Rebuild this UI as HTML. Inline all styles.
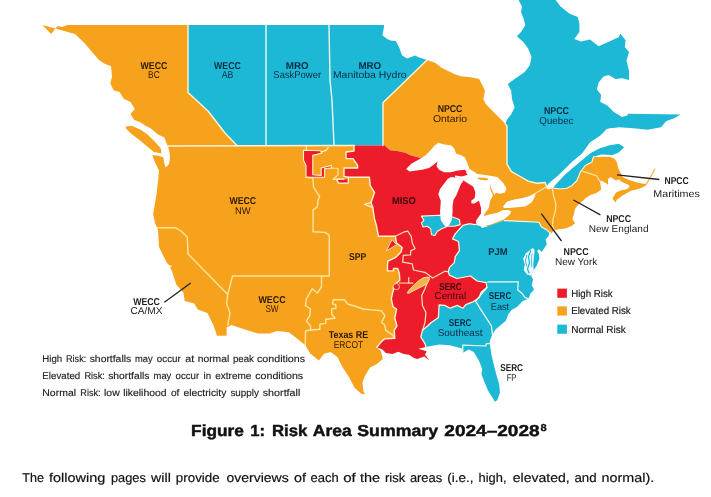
<!DOCTYPE html>
<html><head><meta charset="utf-8"><title>Figure 1: Risk Area Summary 2024-2028</title>
<style>
html,body{margin:0;padding:0;background:#fff;}
body{width:711px;height:497px;overflow:hidden;font-family:"Liberation Sans",sans-serif;}
svg{display:block;}
svg text{font-family:"Liberation Sans",sans-serif;text-rendering:geometricPrecision;}
#labels,#legend,#caption{will-change:opacity;opacity:0.999;}
</style></head><body>
<svg width="711" height="497" viewBox="0 0 711 497">
<defs><filter id="soft" x="0" y="0" width="711" height="497" filterUnits="userSpaceOnUse"><feGaussianBlur stdDeviation="0.35"/></filter></defs>
<rect width="711" height="497" fill="#ffffff"/>
<g filter="url(#soft)">
<rect width="711" height="410" fill="#ffffff"/>
<g id="map">
<path d="M42.5,25.0 L51.0,34.0 L57.5,26.0 L62.0,27.0 L67.5,25.0 L188.0,25.0 L188.0,92.5 L208.0,111.0 L225.0,133.0 L237.0,145.0 L354.0,145.5 L354.0,151.0 L346.0,152.0 L346.0,158.6 L353.0,158.6 L357.6,165.4 L357.6,168.0 L344.0,168.0 L344.0,176.4 L348.3,177.2 L369.4,177.2 L370.2,185.7 L374.5,192.4 L371.0,202.6 L372.8,207.6 L374.5,219.0 L376.3,225.0 L378.5,236.3 L395.4,236.3 L396.5,243.0 L402.2,247.5 L401.0,252.0 L395.4,257.7 L388.0,261.0 L387.5,265.0 L387.5,270.9 L393.5,270.9 L393.5,268.4 L397.7,268.4 L399.4,273.5 L399.8,280.2 L396.0,283.5 L393.2,286.6 L393.5,290.0 L392.6,292.9 L391.3,298.8 L393.1,306.8 L396.5,309.0 L394.8,318.0 L397.0,325.9 L394.2,330.4 L394.8,338.3 L384.6,338.9 L381.3,341.7 L376.8,347.3 L381.0,351.5 L382.8,359.0 L376.9,364.0 L370.0,367.4 L365.0,375.8 L362.5,382.6 L363.4,391.0 L365.0,394.4 L361.0,393.5 L354.3,387.6 L349.3,377.4 L342.5,367.3 L337.4,357.0 L330.7,352.0 L324.0,353.8 L318.9,360.5 L310.4,353.8 L305.3,345.3 L298.3,339.4 L288.8,332.2 L276.8,331.0 L269.6,333.4 L257.7,333.4 L245.7,329.8 L231.3,325.0 L226.6,327.4 L226.6,335.8 L217.0,335.8 L213.4,325.0 L207.4,313.0 L197.8,309.5 L194.3,303.5 L184.7,301.0 L183.5,292.7 L176.3,284.4 L171.5,270.0 L170.0,267.5 L172.0,266.0 L169.0,265.0 L167.0,263.0 L159.0,247.0 L158.0,230.0 L155.0,223.0 L153.1,214.0 L154.8,204.3 L156.5,194.2 L158.1,180.7 L159.0,170.5 L155.6,163.8 L152.2,155.3 L158.0,155.5 L163.5,157.5 L164.0,162.0 L165.5,167.5 L169.0,164.0 L170.0,158.0 L169.5,152.0 L168.0,146.0 L166.9,144.3 L164.3,137.6 L157.6,134.2 L151.7,129.0 L145.7,125.7 L140.7,122.4 L134.0,119.8 L130.5,114.0 L134.8,108.9 L130.5,102.0 L123.8,98.7 L119.6,92.0 L113.6,90.3 L110.3,83.5 L112.0,76.8 L111.0,66.0 L105.0,64.0 L99.0,60.0 L92.5,52.5 L84.0,42.5 L75.0,34.0Z" fill="#F7A21F" />
<path d="M125.5,126.4 L132.2,126.0 L140.7,129.8 L147.2,134.3 L153.9,140.8 L160.7,148.3 L161.5,153.6 L153.9,152.0 L147.2,146.5 L139.5,140.0 L132.2,134.5 L126.3,129.0Z" fill="#F7A21F" />
<path d="M188.0,25.0 L384.1,25.0 L383.5,30.0 L382.4,35.3 L386.9,38.7 L390.3,40.4 L395.9,40.9 L399.3,47.7 L402.1,55.6 L407.2,58.4 L415.1,55.6 L418.5,57.3 L427.0,60.0 L383.0,102.0 L383.0,145.5 L237.0,145.5 L225.0,133.0 L208.0,111.0 L188.0,92.5Z" fill="#1FB8D5" />
<path d="M427.0,60.0 L435.2,62.8 L442.0,67.9 L453.8,73.8 L460.5,76.3 L470.7,77.2 L479.1,78.9 L482.5,85.6 L485.0,90.7 L483.3,99.1 L485.9,104.2 L492.6,111.0 L499.4,117.7 L505.3,124.0 L507.0,126.0 L507.0,164.2 L511.3,171.3 L518.4,175.5 L528.2,181.1 L536.7,183.2 L545.1,182.5 L546.5,186.5 L552.8,188.0 L560.0,189.0 L566.8,188.3 L571.8,185.7 L576.9,180.7 L580.3,172.2 L585.3,165.5 L592.0,162.0 L593.4,157.3 L601.3,156.8 L610.3,156.8 L614.8,159.0 L617.0,162.4 L618.2,168.0 L620.4,172.5 L622.7,177.0 L627.2,179.3 L635.1,182.1 L643.0,183.8 L646.9,183.8 L645.2,186.0 L638.5,188.9 L631.7,190.6 L627.2,192.8 L621.5,196.2 L617.0,199.6 L615.4,202.4 L612.5,198.5 L615.9,192.8 L620.4,190.6 L626.5,189.2 L629.5,187.3 L628.8,185.0 L625.0,183.3 L621.0,181.5 L619.3,179.3 L615.9,180.4 L610.3,177.0 L608.0,179.3 L608.0,185.0 L606.9,183.8 L601.3,180.4 L600.0,181.5 L601.3,189.4 L596.8,192.8 L590.8,195.1 L586.3,197.4 L583.0,200.8 L578.5,204.2 L575.1,208.7 L573.9,214.3 L572.3,218.8 L575.1,223.3 L571.7,226.1 L564.9,228.4 L558.2,229.5 L554.2,230.1 L552.5,232.3 L550.8,233.5 L546.9,230.1 L541.3,226.7 L539.0,222.2 L504.3,220.6 L490.0,226.0 L470.0,226.0 L440.0,200.0 L420.5,157.9 L420.5,157.9 L410.4,155.3 L405.3,152.8 L397.0,151.0 L390.0,150.3 L384.6,145.5 L383.7,141.8 L383.0,145.5 L383.0,102.0Z" fill="#F7A21F" />
<path d="M518.6,0.0 L555.7,0.0 L560.8,6.8 L569.3,13.5 L577.7,16.9 L579.4,23.6 L579.4,32.0 L574.3,38.9 L581.0,41.4 L590.0,39.4 L598.6,46.2 L610.4,41.1 L618.9,36.9 L620.3,33.5 L625.6,40.3 L624.8,47.0 L629.0,52.1 L626.5,60.5 L629.0,70.7 L629.0,80.0 L622.2,78.3 L615.5,79.1 L608.7,74.9 L603.6,76.6 L598.6,82.5 L596.9,89.3 L601.1,95.1 L600.3,101.9 L607.0,105.3 L613.8,112.0 L622.2,117.1 L627.3,115.4 L628.1,113.7 L680.5,114.6 L674.6,118.0 L666.1,121.3 L661.1,127.2 L647.6,129.8 L630.7,128.0 L618.9,127.2 L607.0,128.9 L600.3,135.7 L590.1,142.4 L583.4,152.6 L576.9,159.6 L568.4,166.4 L560.0,173.9 L552.0,181.0 L546.5,186.5 L546.5,186.5 L545.1,182.5 L536.7,183.2 L528.2,181.1 L518.4,175.5 L511.3,171.3 L507.0,164.2 L507.0,126.0 L505.3,124.0 L507.0,119.4 L511.2,114.3 L514.6,107.6 L512.0,99.1 L511.2,90.7 L507.8,83.9 L514.6,78.9 L524.7,72.1 L529.8,65.3 L531.5,56.9 L528.1,48.4 L523.6,42.2 L516.9,36.3 L521.0,32.0 L525.3,25.3 L523.6,18.6 L521.0,11.8 L522.0,6.8Z" fill="#1FB8D5" />
<path d="M552.8,188.0 L556.0,184.0 L563.4,176.0 L571.8,168.5 L582.0,160.0 L590.4,153.0 L598.9,148.5 L610.7,144.8 L619.1,143.8 L624.2,146.9 L621.5,150.0 L618.2,152.8 L612.5,155.0 L601.3,154.5 L593.4,156.8 L592.0,162.0 L585.3,165.5 L580.3,172.2 L576.9,180.7 L571.8,185.7 L566.8,188.3 L560.0,189.0Z" fill="#1FB8D5" />
<path d="M354.0,145.5 L383.0,145.5 L383.0,145.5 L383.7,141.8 L384.6,145.5 L390.0,150.3 L397.0,151.0 L405.3,152.8 L410.4,155.3 L420.5,157.9 L440.0,152.0 L465.0,160.0 L470.0,170.0 L480.0,190.0 L484.0,205.0 L481.5,220.0 L478.0,224.0 L474.6,224.6 L469.5,223.7 L462.8,225.4 L455.2,233.9 L452.6,238.9 L458.5,241.5 L459.4,250.7 L455.2,256.7 L454.3,262.6 L449.3,267.6 L448.4,271.8 L449.3,275.1 L456.9,278.5 L470.4,276.0 L477.2,281.0 L486.2,282.7 L486.9,287.5 L481.3,292.1 L479.1,297.7 L472.8,301.9 L465.8,304.7 L463.0,308.2 L457.3,305.4 L450.3,308.2 L444.7,305.4 L439.1,304.9 L438.4,317.4 L430.6,323.0 L427.6,326.0 L422.5,330.2 L420.8,337.0 L425.0,343.7 L425.9,347.1 L418.3,348.8 L426.7,351.3 L425.0,354.7 L429.3,360.6 L424.2,356.4 L417.4,359.0 L414.0,358.0 L409.0,354.7 L403.8,354.0 L398.2,351.8 L392.5,354.0 L385.8,353.0 L382.4,349.6 L376.8,347.3 L381.3,341.7 L384.6,338.9 L394.8,338.3 L394.2,330.4 L397.0,325.9 L394.8,318.0 L396.5,309.0 L393.1,306.8 L391.3,298.8 L392.6,292.9 L393.5,290.0 L393.2,286.6 L396.0,283.5 L399.8,280.2 L399.4,273.5 L397.7,268.4 L393.5,268.4 L393.5,270.9 L387.5,270.9 L387.5,265.0 L388.0,261.0 L395.4,257.7 L401.0,252.0 L402.2,247.5 L396.5,243.0 L395.4,236.3 L378.5,236.3 L376.3,225.0 L374.5,219.0 L372.8,207.6 L371.0,202.6 L374.5,192.4 L370.2,185.7 L369.4,177.2 L348.3,177.2 L344.0,176.4 L344.0,168.0 L357.6,168.0 L357.6,165.4 L353.0,158.6 L346.0,158.6 L346.0,152.0 L354.0,151.0 L354.0,145.5Z" fill="#ED1C2B" />
<path d="M336.5,179.3 L348.3,179.3 L348.3,183.1 L338.5,183.1Z" fill="#ED1C2B" />
<path d="M303.5,150.3 L320.5,150.8 L322.0,153.0 L317.0,154.4 L312.8,155.3 L312.8,174.7 L321.2,175.5 L321.2,168.0 L331.4,165.4 L331.4,168.0 L324.6,168.8 L324.6,177.2 L306.0,177.2 L306.0,165.4 L303.5,160.3Z" fill="#ED1C2B" stroke="#FFF4D6" stroke-width="1.1" stroke-linejoin="round" />
<path d="M321.0,152.0 L326.0,150.3 L328.2,147.6" fill="none" stroke="#FFF4D6" stroke-width="1.25" stroke-linejoin="round" stroke-linecap="round" />
<path d="M306.3,146.0 L306.3,150.5" fill="none" stroke="#FFF4D6" stroke-width="1.15" stroke-linejoin="round" stroke-linecap="round" />
<path d="M478.0,224.0 L482.2,227.9 L490.7,225.3 L504.3,220.6 L539.0,222.2 L541.3,226.7 L546.9,230.1 L550.8,233.5 L549.6,231.8 L548.5,236.3 L545.6,239.6 L546.8,244.2 L543.9,248.7 L541.7,252.0 L538.9,249.2 L537.2,250.9 L538.9,254.3 L539.4,258.8 L537.7,263.3 L536.1,266.7 L533.8,270.1 L531.0,275.5 L533.0,279.6 L531.8,285.3 L534.1,289.8 L530.7,293.2 L528.5,298.8 L522.8,301.0 L517.2,306.7 L511.5,310.0 L508.2,314.6 L505.9,320.7 L495.7,329.2 L492.4,334.3 L489.8,341.0 L489.8,343.5 L491.5,355.3 L494.0,365.5 L496.6,375.6 L499.1,384.0 L500.0,392.5 L497.4,400.0 L494.9,401.8 L492.4,397.6 L488.1,390.8 L483.9,380.7 L481.4,373.9 L482.2,368.9 L478.9,360.4 L473.8,352.0 L468.7,349.4 L462.8,352.8 L462.0,348.6 L450.0,345.2 L439.4,344.6 L425.9,347.1 L425.0,343.7 L420.8,337.0 L422.5,330.2 L427.6,326.0 L430.6,323.0 L438.4,317.4 L439.1,304.9 L444.7,305.4 L450.3,308.2 L457.3,305.4 L463.0,308.2 L465.8,304.7 L472.8,301.9 L479.1,297.7 L481.3,292.1 L486.9,287.5 L486.2,282.7 L477.2,281.0 L470.4,276.0 L456.9,278.5 L449.3,275.1 L448.4,271.8 L449.3,267.6 L454.3,262.6 L455.2,256.7 L459.4,250.7 L458.5,241.5 L452.6,238.9 L455.2,233.9 L462.8,225.4 L469.5,223.7 L474.6,224.6 L478.0,224.0Z" fill="#1FB8D5" />
<path d="M532.7,248.0 L534.6,250.0 L533.8,258.0 L533.2,264.4 L533.8,270.3 L531.0,275.5 L527.0,274.6 L523.7,270.1 L524.8,264.4 L523.1,258.8 L525.9,253.2 L530.4,249.8Z" fill="#F1FBFD" />
<path d="M530.5,251.0 L528.5,257.0 L529.5,263.0 L527.5,269.0 L529.0,273.0" fill="none" stroke="#1FB8D5" stroke-width="1.3" stroke-linejoin="round" stroke-linecap="round" />
<path d="M527.0,255.0 L525.5,260.0 L526.5,266.0" fill="none" stroke="#1FB8D5" stroke-width="0.9" stroke-linejoin="round" stroke-linecap="round" />
<path d="M532.0,254.0 L531.3,261.0 L531.8,267.0" fill="none" stroke="#1FB8D5" stroke-width="0.8" stroke-linejoin="round" stroke-linecap="round" />
<path d="M421.4,216.1 L440.0,215.3 L452.6,217.0 L459.4,219.5 L460.2,224.6 L454.3,226.3 L447.6,226.3 L441.7,228.8 L437.4,231.3 L434.9,235.5 L431.5,234.7 L430.7,228.8 L427.3,226.3 L423.0,227.0 L421.4,222.9 L423.9,220.3Z" fill="#1FB8D5" stroke="#FFF4D6" stroke-width="1.1" stroke-linejoin="round" />
<path d="M406.2,168.9 L411.2,163.8 L418.9,159.6 L425.6,155.3 L430.7,150.3 L434.0,146.0 L438.3,142.7 L444.2,144.4 L451.0,145.2 L454.3,148.6 L456.0,153.6 L461.0,155.3 L464.5,157.0 L467.0,162.0 L468.5,166.3 L469.5,169.0 L467.8,172.0 L464.5,169.7 L457.7,170.5 L451.0,172.2 L444.2,172.2 L439.0,169.7 L436.5,166.0 L437.6,161.5 L434.0,164.6 L429.0,168.0 L422.0,169.7 L416.3,170.5 L409.6,171.4Z" fill="#ffffff" />
<path d="M455.0,177.5 L459.0,178.0 L463.5,180.5 L461.0,184.0 L459.2,188.2 L456.4,195.2 L453.5,200.0 L452.6,206.0 L452.6,212.0 L451.8,220.3 L449.0,225.5 L447.6,226.3 L445.0,226.3 L440.8,220.3 L440.0,212.0 L440.8,201.0 L438.3,194.2 L440.0,189.0 L442.5,185.7 L447.6,179.0 L451.0,177.0Z" fill="#ffffff" />
<path d="M468.5,166.0 L469.5,169.0 L477.5,174.0 L488.8,175.5 L497.3,176.9 L502.9,182.5 L506.4,188.2 L505.0,192.4 L500.0,193.8 L495.8,192.8 L494.5,195.0 L491.5,189.0 L489.5,183.5 L490.5,190.0 L493.0,195.2 L490.2,200.8 L488.8,207.9 L484.6,213.5 L483.2,219.2 L479.5,224.5 L476.5,223.5 L476.1,220.6 L481.0,213.5 L481.0,207.9 L479.0,200.8 L474.5,203.5 L471.5,203.5 L471.2,200.8 L474.7,198.0 L475.4,192.4 L473.3,186.8 L469.0,184.0 L463.5,180.5 L459.0,178.0 L455.0,177.5 L455.0,175.5 L462.0,176.5 L467.7,174.8 L466.0,172.5Z" fill="#ffffff" />
<path d="M476.1,222.0 L483.2,216.3 L490.2,214.2 L497.3,212.8 L502.9,210.0 L508.5,210.0 L511.3,211.4 L510.0,214.2 L504.3,219.2 L497.3,222.0 L490.2,224.8 L483.2,226.2 L477.5,225.5Z" fill="#ffffff" />
<path d="M502.9,206.5 L507.1,201.5 L514.2,199.4 L522.6,198.0 L529.6,195.9 L533.9,193.8 L535.5,194.5 L534.6,197.3 L531.8,202.3 L525.4,206.5 L517.0,207.2 L508.5,207.9 L504.0,208.0Z" fill="#ffffff" />
<ellipse cx="483" cy="178.9" rx="5.5" ry="1.2" transform="rotate(6 483 178.9)" fill="#F7A21F"/>
<path d="M546.0,188.5 L548.5,183.5 L556.0,177.5 L563.4,170.5 L571.8,162.0 L582.0,153.5 L590.1,142.4 L600.3,135.7 L607.0,128.9 L612.0,128.0 L618.0,130.0 L624.0,136.0 L626.0,144.0 L624.2,146.9 L619.1,143.8 L610.7,144.8 L598.9,148.5 L590.4,153.0 L582.0,160.0 L571.8,168.5 L563.4,176.0 L556.0,184.0 L552.8,188.0 L549.0,189.5Z" fill="#ffffff" />
</g>
<g id="borders">
<path d="M188.0,25.0 L188.0,92.5 L208.0,111.0 L225.0,133.0 L237.0,145.5" fill="none" stroke="#FFF4D6" stroke-width="1.4" stroke-linejoin="round" stroke-linecap="round" />
<path d="M168.0,146.0 L354.0,145.5" fill="none" stroke="#FFF4D6" stroke-width="1.4" stroke-linejoin="round" stroke-linecap="round" />
<path d="M266.0,25.0 L266.0,145.5" fill="none" stroke="#EFFBEA" stroke-width="1.4" stroke-linejoin="round" stroke-linecap="round" />
<path d="M329.0,25.0 L330.0,80.0 L332.0,100.0 L334.0,145.5" fill="none" stroke="#EFFBEA" stroke-width="1.4" stroke-linejoin="round" stroke-linecap="round" />
<path d="M427.0,60.0 L383.0,102.8 L383.0,145.5" fill="none" stroke="#FFF4D6" stroke-width="1.4" stroke-linejoin="round" stroke-linecap="round" />
<path d="M505.3,124.0 L507.0,126.0 L507.0,164.2 L511.3,171.3 L518.4,175.5 L528.2,181.1 L536.7,183.2 L545.1,182.5 L546.5,186.5" fill="none" stroke="#FFF4D6" stroke-width="1.4" stroke-linejoin="round" stroke-linecap="round" />
<path d="M157.0,227.7 L175.4,227.7 L181.0,231.0 L187.2,237.0 L188.1,253.9 L227.8,294.4 L226.6,303.5 L230.0,313.0 L227.8,325.0" fill="none" stroke="#FFE59A" stroke-width="1.4" stroke-linejoin="round" stroke-linecap="round" />
<path d="M227.8,294.0 L232.5,276.0 L329.3,276.0" fill="none" stroke="#FFE59A" stroke-width="1.4" stroke-linejoin="round" stroke-linecap="round" />
<path d="M306.0,177.2 L312.8,178.0 L313.6,187.4 L317.0,192.4 L319.6,196.7 L318.0,200.0 L317.3,207.0 L313.1,209.9 L313.1,231.7 L325.0,232.4 L329.3,235.2 L329.3,276.0" fill="none" stroke="#FFE59A" stroke-width="1.4" stroke-linejoin="round" stroke-linecap="round" />
<path d="M321.5,276.0 L321.5,287.0 L317.3,293.0 L312.2,288.8 L306.3,299.0 L305.5,305.7 L310.5,309.0 L309.7,315.8 L306.3,320.9 L310.5,326.0 L310.5,330.0 L305.5,331.0 L305.3,345.3" fill="none" stroke="#FFE59A" stroke-width="1.4" stroke-linejoin="round" stroke-linecap="round" />
<path d="M310.5,330.0 L319.8,329.3 L319.8,324.3 L325.7,323.4 L325.7,319.2 L335.0,318.3 L331.7,314.0 L331.7,309.0 L335.9,308.2 L335.9,304.8 L332.5,304.0 L333.3,299.8 L344.3,299.8 L347.7,304.0 L356.1,306.5 L362.9,309.0 L371.4,309.9 L381.5,310.7 L384.9,315.8 L381.5,322.6 L384.6,324.8 L385.8,330.4 L392.5,334.9 L394.2,338.3" fill="none" stroke="#FFE59A" stroke-width="1.4" stroke-linejoin="round" stroke-linecap="round" />
<path d="M354.0,145.5 L354.0,151.0 L346.0,152.0 L346.0,158.6 L353.0,158.6 L357.6,165.4 L357.6,168.0 L344.0,168.0 L344.0,176.4 L348.3,177.2 L369.4,177.2 L370.2,185.7 L374.5,192.4 L371.0,202.6 L372.8,207.6 L374.5,219.0 L376.3,225.0 L378.5,236.3 L395.4,236.3 L396.5,243.0 L402.2,247.5 L401.0,252.0 L395.4,257.7 L388.0,261.0 L387.5,265.0 L387.5,270.9 L393.5,270.9 L393.5,268.4 L397.7,268.4 L399.4,273.5 L399.8,280.2 L396.0,283.5 L393.2,286.6 L393.5,290.0 L392.6,292.9 L391.3,298.8 L393.1,306.8 L396.5,309.0 L394.8,318.0 L397.0,325.9 L394.2,330.4 L394.8,338.3 L384.6,338.9 L381.3,341.7 L376.8,347.3" fill="none" stroke="#FFF4D6" stroke-width="1.4" stroke-linejoin="round" stroke-linecap="round" />
<path d="M371.0,202.6 L364.5,204.3 L372.8,207.6" fill="none" stroke="#FFF4D6" stroke-width="1.15" stroke-linejoin="round" stroke-linecap="round" />
<path d="M348.3,177.2 L348.3,183.1 L338.5,183.1 L336.5,179.3 L344.0,179.0" fill="none" stroke="#FFF4D6" stroke-width="1.4" stroke-linejoin="round" stroke-linecap="round" />
<path d="M324.6,168.8 L331.4,168.0 L338.0,168.5 L338.0,175.0 L333.0,179.3 L336.5,179.3" fill="none" stroke="#FFE59A" stroke-width="1.15" stroke-linejoin="round" stroke-linecap="round" />
<path d="M395.4,236.3 L404.4,231.8 L407.8,231.2 L411.2,236.3 L412.3,243.0 L415.1,248.7 L410.6,250.9 L410.6,254.9 L403.3,255.4 L402.7,262.2 L412.3,263.9 L413.5,270.0 L424.7,272.3 L428.1,274.6 L432.6,278.0 L445.0,271.2 L448.4,271.8" fill="none" stroke="#FCDDB4" stroke-width="1.25" stroke-linejoin="round" stroke-linecap="round" />
<path d="M429.3,277.0 L425.0,288.8 L421.7,295.5 L422.5,305.7 L425.9,312.4 L425.0,322.6 L422.5,330.2" fill="none" stroke="#FCDDB4" stroke-width="1.25" stroke-linejoin="round" stroke-linecap="round" />
<path d="M478.0,224.0 L474.6,224.6 L469.5,223.7 L462.8,225.4 L455.2,233.9 L452.6,238.9 L458.5,241.5 L459.4,250.7 L455.2,256.7 L454.3,262.6 L449.3,267.6 L448.4,271.8 L449.3,275.1 L456.9,278.5 L470.4,276.0 L477.2,281.0 L486.2,282.7 L486.9,287.5 L481.3,292.1 L479.1,297.7 L472.8,301.9 L465.8,304.7 L463.0,308.2 L457.3,305.4 L450.3,308.2 L444.7,305.4 L439.1,304.9 L438.4,317.4 L430.6,323.0 L427.6,326.0 L422.5,330.2 L420.8,337.0 L425.0,343.7 L425.9,347.1" fill="none" stroke="#FFF4D6" stroke-width="1.25" stroke-linejoin="round" stroke-linecap="round" />
<path d="M487.9,281.9 L518.3,281.9 L517.7,289.8 L521.7,293.2 L525.1,297.7 L528.5,298.8" fill="none" stroke="#EFFBEA" stroke-width="1.25" stroke-linejoin="round" stroke-linecap="round" />
<path d="M486.9,287.5 L475.6,301.2 L481.3,310.3 L486.9,318.8 L491.5,326.0 L492.4,334.3" fill="none" stroke="#EFFBEA" stroke-width="1.25" stroke-linejoin="round" stroke-linecap="round" />
<path d="M462.8,352.8 L462.8,345.2 L485.6,346.0 L486.5,343.5 L489.8,343.5" fill="none" stroke="#EFFBEA" stroke-width="1.25" stroke-linejoin="round" stroke-linecap="round" />
<path d="M552.5,189.5 L553.7,196.3 L555.9,204.2 L555.4,210.9 L553.1,218.8 L552.5,225.6 L554.2,230.1" fill="none" stroke="#FFE59A" stroke-width="1.25" stroke-linejoin="round" stroke-linecap="round" />
<path d="M582.8,171.4 L590.0,173.7 L596.8,175.9 L600.0,181.5" fill="none" stroke="#FFE59A" stroke-width="1.25" stroke-linejoin="round" stroke-linecap="round" />
<path d="M546.5,186.5 L552.2,188.2" fill="none" stroke="#FFF4D6" stroke-width="1.25" stroke-linejoin="round" stroke-linecap="round" />
<path d="M534.6,193.8 L546.5,186.8" fill="none" stroke="#FFE59A" stroke-width="1.25" stroke-linejoin="round" stroke-linecap="round" />
<path d="M646.5,184.0 L654.8,169.2" fill="none" stroke="#F7B24C" stroke-width="1.25" stroke-linejoin="round" stroke-linecap="round" />
<path d="M504.3,220.6 L539.0,222.2 L541.3,226.7 L546.9,230.1 L550.8,233.5" fill="none" stroke="#EFFBEA" stroke-width="1.15" stroke-linejoin="round" stroke-linecap="round" />
<path d="M552.8,188.0 L560.0,189.0 L566.8,188.3 L571.8,185.7 L576.9,180.7 L580.3,172.2 L585.3,165.5 L592.0,162.0 L593.4,156.8" fill="none" stroke="#FFF4D6" stroke-width="1.15" stroke-linejoin="round" stroke-linecap="round" />
<path d="M392.0,239.6 L396.5,244.7 L386.4,250.9Z" fill="#ED1C2B" stroke="#FFF4D6" stroke-width="0.8" stroke-linejoin="round" />
<path d="M407.0,292.9 L410.0,289.0 L414.0,285.0 L419.0,280.5 L424.0,277.5 L428.0,277.0 L429.5,279.0 L428.0,282.5 L424.0,285.5 L418.0,288.5 L413.0,291.0 L409.0,293.2Z" fill="#F9B24A" stroke="#FBD9A0" stroke-width="1.0" stroke-linejoin="round" />
<path d="M399.5,283.0 L412.9,283.2" fill="none" stroke="#FBD9A0" stroke-width="1.25" stroke-linejoin="round" stroke-linecap="round" />
<path d="M408.7,277.7 L408.7,283.0" fill="none" stroke="#FBD9A0" stroke-width="1.25" stroke-linejoin="round" stroke-linecap="round" />
<circle cx="396.4" cy="286.6" r="3.1" fill="#ED1C2B" stroke="#FBD9A0" stroke-width="0.9"/>
</g>
</g>
<g id="leaders">
<line x1="617" y1="174.8" x2="659.3" y2="179.5" stroke="#222" stroke-width="1.3"/>
<line x1="573.4" y1="200" x2="600.4" y2="214.9" stroke="#222" stroke-width="1.3"/>
<line x1="541.3" y1="213.7" x2="561.5" y2="241" stroke="#222" stroke-width="1.3"/>
<line x1="190.7" y1="283" x2="164.4" y2="302.3" stroke="#222" stroke-width="1.3"/>
</g>
<g id="labels">
<text x="153.9" y="68.6" font-size="9.9" text-anchor="middle" textLength="26.8" lengthAdjust="spacingAndGlyphs" font-weight="700" fill="#2a1906">WECC</text>
<text x="153.9" y="78.2" font-size="9.9" text-anchor="middle" textLength="11.6" lengthAdjust="spacingAndGlyphs" fill="#2a1906">BC</text>
<text x="227.5" y="68.6" font-size="9.9" text-anchor="middle" textLength="26.8" lengthAdjust="spacingAndGlyphs" font-weight="700" fill="#0b2c45">WECC</text>
<text x="227.5" y="78.2" font-size="9.9" text-anchor="middle" textLength="11.6" lengthAdjust="spacingAndGlyphs" fill="#0b2c45">AB</text>
<text x="297.2" y="68.5" font-size="9.9" text-anchor="middle" textLength="22.8" lengthAdjust="spacingAndGlyphs" font-weight="700" fill="#0b2c45">MRO</text>
<text x="297.2" y="78.2" font-size="9.9" text-anchor="middle" textLength="47.7" lengthAdjust="spacingAndGlyphs" fill="#0b2c45">SaskPower</text>
<text x="369.8" y="68.5" font-size="9.9" text-anchor="middle" textLength="22.8" lengthAdjust="spacingAndGlyphs" font-weight="700" fill="#0b2c45">MRO</text>
<text x="369.8" y="78.4" font-size="9.9" text-anchor="middle" textLength="73.8" lengthAdjust="spacingAndGlyphs" fill="#0b2c45">Manitoba Hydro</text>
<text x="450.0" y="112.4" font-size="9.9" text-anchor="middle" textLength="24.7" lengthAdjust="spacingAndGlyphs" font-weight="700" fill="#2a1906">NPCC</text>
<text x="450.0" y="122.1" font-size="9.9" text-anchor="middle" textLength="34.2" lengthAdjust="spacingAndGlyphs" fill="#2a1906">Ontario</text>
<text x="556.4" y="113.6" font-size="9.9" text-anchor="middle" textLength="25.0" lengthAdjust="spacingAndGlyphs" font-weight="700" fill="#0b2c45">NPCC</text>
<text x="556.4" y="123.7" font-size="9.9" text-anchor="middle" textLength="34.2" lengthAdjust="spacingAndGlyphs" fill="#0b2c45">Quebec</text>
<text x="242.8" y="203.9" font-size="9.9" text-anchor="middle" textLength="26.6" lengthAdjust="spacingAndGlyphs" font-weight="700" fill="#2a1906">WECC</text>
<text x="242.8" y="213.5" font-size="9.9" text-anchor="middle" textLength="15.6" lengthAdjust="spacingAndGlyphs" fill="#2a1906">NW</text>
<text x="403.9" y="204.3" font-size="9.9" text-anchor="middle" textLength="24.0" lengthAdjust="spacingAndGlyphs" font-weight="700" fill="#3a0810">MISO</text>
<text x="357.6" y="259.8" font-size="9.9" text-anchor="middle" textLength="17.2" lengthAdjust="spacingAndGlyphs" font-weight="700" fill="#2a1906">SPP</text>
<text x="497.9" y="255.4" font-size="9.9" text-anchor="middle" textLength="19.5" lengthAdjust="spacingAndGlyphs" font-weight="700" fill="#0b2c45">PJM</text>
<text x="450.4" y="289.9" font-size="9.9" text-anchor="middle" textLength="22.2" lengthAdjust="spacingAndGlyphs" font-weight="700" fill="#3a0810">SERC</text>
<text x="450.4" y="299.2" font-size="9.9" text-anchor="middle" textLength="31.7" lengthAdjust="spacingAndGlyphs" fill="#3a0810">Central</text>
<text x="500.0" y="299.3" font-size="9.9" text-anchor="middle" textLength="22.5" lengthAdjust="spacingAndGlyphs" font-weight="700" fill="#0b2c45">SERC</text>
<text x="500.0" y="309.7" font-size="9.9" text-anchor="middle" textLength="18.3" lengthAdjust="spacingAndGlyphs" fill="#0b2c45">East</text>
<text x="460.1" y="326.4" font-size="9.9" text-anchor="middle" textLength="22.5" lengthAdjust="spacingAndGlyphs" font-weight="700" fill="#0b2c45">SERC</text>
<text x="460.1" y="336.4" font-size="9.9" text-anchor="middle" textLength="44.8" lengthAdjust="spacingAndGlyphs" fill="#0b2c45">Southeast</text>
<text x="511.6" y="371.1" font-size="9.9" text-anchor="middle" textLength="22.8" lengthAdjust="spacingAndGlyphs" font-weight="700" fill="#1c1c1c">SERC</text>
<text x="511.6" y="380.9" font-size="9.9" text-anchor="middle" textLength="9.9" lengthAdjust="spacingAndGlyphs" fill="#1c1c1c">FP</text>
<text x="272.0" y="302.5" font-size="9.9" text-anchor="middle" textLength="27.1" lengthAdjust="spacingAndGlyphs" font-weight="700" fill="#2a1906">WECC</text>
<text x="272.0" y="312.3" font-size="9.9" text-anchor="middle" textLength="13.1" lengthAdjust="spacingAndGlyphs" fill="#2a1906">SW</text>
<text x="348.4" y="338.4" font-size="9.9" text-anchor="middle" textLength="39.3" lengthAdjust="spacingAndGlyphs" font-weight="700" fill="#2a1906">Texas RE</text>
<text x="348.4" y="347.8" font-size="9.9" text-anchor="middle" textLength="29.5" lengthAdjust="spacingAndGlyphs" fill="#2a1906">ERCOT</text>
<text x="146.5" y="304.5" font-size="9.9" text-anchor="middle" textLength="26.7" lengthAdjust="spacingAndGlyphs" font-weight="700" fill="#1c1c1c">WECC</text>
<text x="146.5" y="314.4" font-size="9.9" text-anchor="middle" textLength="32.2" lengthAdjust="spacingAndGlyphs" fill="#1c1c1c">CA/MX</text>
<text x="676.6" y="183.7" font-size="9.9" text-anchor="middle" textLength="24.3" lengthAdjust="spacingAndGlyphs" font-weight="700" fill="#1c1c1c">NPCC</text>
<text x="676.6" y="197.0" font-size="9.9" text-anchor="middle" textLength="46.5" lengthAdjust="spacingAndGlyphs" fill="#1c1c1c">Maritimes</text>
<text x="618.6" y="221.8" font-size="9.9" text-anchor="middle" textLength="24.8" lengthAdjust="spacingAndGlyphs" font-weight="700" fill="#1c1c1c">NPCC</text>
<text x="618.6" y="231.7" font-size="9.9" text-anchor="middle" textLength="59.8" lengthAdjust="spacingAndGlyphs" fill="#1c1c1c">New England</text>
<text x="576.1" y="254.8" font-size="9.9" text-anchor="middle" textLength="25.1" lengthAdjust="spacingAndGlyphs" font-weight="700" fill="#1c1c1c">NPCC</text>
<text x="576.1" y="264.6" font-size="9.9" text-anchor="middle" textLength="42.4" lengthAdjust="spacingAndGlyphs" fill="#1c1c1c">New York</text>
</g>
<g id="legend">
<rect x="557.3" y="288.6" width="9.6" height="9.2" fill="#ED1C2B"/>
<text stroke="#1c1c1c" stroke-width="0.2" x="571.2" y="296.6" font-size="10.2" text-anchor="start" textLength="41.5" lengthAdjust="spacingAndGlyphs" fill="#1c1c1c">High Risk</text>
<rect x="557.3" y="306.4" width="9.6" height="9.2" fill="#F7A21F"/>
<text stroke="#1c1c1c" stroke-width="0.2" x="571.2" y="314.4" font-size="10.2" text-anchor="start" textLength="59.5" lengthAdjust="spacingAndGlyphs" fill="#1c1c1c">Elevated Risk</text>
<rect x="557.3" y="324.6" width="9.6" height="9.2" fill="#1FB8D5"/>
<text stroke="#1c1c1c" stroke-width="0.2" x="571.2" y="332.6" font-size="10.2" text-anchor="start" textLength="54.6" lengthAdjust="spacingAndGlyphs" fill="#1c1c1c">Normal Risk</text>
<text stroke="#1c1c1c" stroke-width="0.15" x="42.3" y="362.0" font-size="9.8" text-anchor="start" textLength="19.9" lengthAdjust="spacingAndGlyphs" fill="#1c1c1c">High</text>
<text stroke="#1c1c1c" stroke-width="0.15" x="66.0" y="362.0" font-size="9.8" text-anchor="start" textLength="20.3" lengthAdjust="spacingAndGlyphs" fill="#1c1c1c">Risk:</text>
<text stroke="#1c1c1c" stroke-width="0.15" x="89.7" y="362.0" font-size="9.8" text-anchor="start" textLength="41.5" lengthAdjust="spacingAndGlyphs" fill="#1c1c1c">shortfalls</text>
<text stroke="#1c1c1c" stroke-width="0.15" x="135.0" y="362.0" font-size="9.8" text-anchor="start" textLength="17.7" lengthAdjust="spacingAndGlyphs" fill="#1c1c1c">may</text>
<text stroke="#1c1c1c" stroke-width="0.15" x="156.8" y="362.0" font-size="9.8" text-anchor="start" textLength="24.0" lengthAdjust="spacingAndGlyphs" fill="#1c1c1c">occur</text>
<text stroke="#1c1c1c" stroke-width="0.15" x="185.2" y="362.0" font-size="9.8" text-anchor="start" textLength="9.0" lengthAdjust="spacingAndGlyphs" fill="#1c1c1c">at</text>
<text stroke="#1c1c1c" stroke-width="0.15" x="197.7" y="362.0" font-size="9.8" text-anchor="start" textLength="31.5" lengthAdjust="spacingAndGlyphs" fill="#1c1c1c">normal</text>
<text stroke="#1c1c1c" stroke-width="0.15" x="233.0" y="362.0" font-size="9.8" text-anchor="start" textLength="20.9" lengthAdjust="spacingAndGlyphs" fill="#1c1c1c">peak</text>
<text stroke="#1c1c1c" stroke-width="0.15" x="257.0" y="362.0" font-size="9.8" text-anchor="start" textLength="48.1" lengthAdjust="spacingAndGlyphs" fill="#1c1c1c">conditions</text>
<text stroke="#1c1c1c" stroke-width="0.15" x="42.3" y="378.9" font-size="9.8" text-anchor="start" textLength="38.0" lengthAdjust="spacingAndGlyphs" fill="#1c1c1c">Elevated</text>
<text stroke="#1c1c1c" stroke-width="0.15" x="84.4" y="378.9" font-size="9.8" text-anchor="start" textLength="20.5" lengthAdjust="spacingAndGlyphs" fill="#1c1c1c">Risk:</text>
<text stroke="#1c1c1c" stroke-width="0.15" x="108.2" y="378.9" font-size="9.8" text-anchor="start" textLength="41.2" lengthAdjust="spacingAndGlyphs" fill="#1c1c1c">shortfalls</text>
<text stroke="#1c1c1c" stroke-width="0.15" x="153.6" y="378.9" font-size="9.8" text-anchor="start" textLength="17.7" lengthAdjust="spacingAndGlyphs" fill="#1c1c1c">may</text>
<text stroke="#1c1c1c" stroke-width="0.15" x="175.5" y="378.9" font-size="9.8" text-anchor="start" textLength="23.7" lengthAdjust="spacingAndGlyphs" fill="#1c1c1c">occur</text>
<text stroke="#1c1c1c" stroke-width="0.15" x="203.6" y="378.9" font-size="9.8" text-anchor="start" textLength="7.6" lengthAdjust="spacingAndGlyphs" fill="#1c1c1c">in</text>
<text stroke="#1c1c1c" stroke-width="0.15" x="215.3" y="378.9" font-size="9.8" text-anchor="start" textLength="36.0" lengthAdjust="spacingAndGlyphs" fill="#1c1c1c">extreme</text>
<text stroke="#1c1c1c" stroke-width="0.15" x="255.3" y="378.9" font-size="9.8" text-anchor="start" textLength="47.9" lengthAdjust="spacingAndGlyphs" fill="#1c1c1c">conditions</text>
<text stroke="#1c1c1c" stroke-width="0.15" x="42.3" y="396.2" font-size="9.8" text-anchor="start" textLength="33.8" lengthAdjust="spacingAndGlyphs" fill="#1c1c1c">Normal</text>
<text stroke="#1c1c1c" stroke-width="0.15" x="80.3" y="396.2" font-size="9.8" text-anchor="start" textLength="20.3" lengthAdjust="spacingAndGlyphs" fill="#1c1c1c">Risk:</text>
<text stroke="#1c1c1c" stroke-width="0.15" x="104.0" y="396.2" font-size="9.8" text-anchor="start" textLength="15.7" lengthAdjust="spacingAndGlyphs" fill="#1c1c1c">low</text>
<text stroke="#1c1c1c" stroke-width="0.15" x="123.2" y="396.2" font-size="9.8" text-anchor="start" textLength="43.4" lengthAdjust="spacingAndGlyphs" fill="#1c1c1c">likelihood</text>
<text stroke="#1c1c1c" stroke-width="0.15" x="170.9" y="396.2" font-size="9.8" text-anchor="start" textLength="8.5" lengthAdjust="spacingAndGlyphs" fill="#1c1c1c">of</text>
<text stroke="#1c1c1c" stroke-width="0.15" x="183.4" y="396.2" font-size="9.8" text-anchor="start" textLength="43.0" lengthAdjust="spacingAndGlyphs" fill="#1c1c1c">electricity</text>
<text stroke="#1c1c1c" stroke-width="0.15" x="230.4" y="396.2" font-size="9.8" text-anchor="start" textLength="28.5" lengthAdjust="spacingAndGlyphs" fill="#1c1c1c">supply</text>
<text stroke="#1c1c1c" stroke-width="0.15" x="262.7" y="396.2" font-size="9.8" text-anchor="start" textLength="37.7" lengthAdjust="spacingAndGlyphs" fill="#1c1c1c">shortfall</text>
</g>
<g id="caption">
<text x="191.1" y="435.8" font-size="15.9" font-weight="700" textLength="52.8" lengthAdjust="spacingAndGlyphs" fill="#111" stroke="#111" stroke-width="0.45">Figure</text>
<text x="250.2" y="435.8" font-size="15.9" font-weight="700" textLength="14.8" lengthAdjust="spacingAndGlyphs" fill="#111" stroke="#111" stroke-width="0.45">1:</text>
<text x="272" y="435.8" font-size="15.9" font-weight="700" textLength="35.4" lengthAdjust="spacingAndGlyphs" fill="#111" stroke="#111" stroke-width="0.45">Risk</text>
<text x="312.8" y="435.8" font-size="15.9" font-weight="700" textLength="38.9" lengthAdjust="spacingAndGlyphs" fill="#111" stroke="#111" stroke-width="0.45">Area</text>
<text x="357.3" y="435.8" font-size="15.9" font-weight="700" textLength="80.7" lengthAdjust="spacingAndGlyphs" fill="#111" stroke="#111" stroke-width="0.45">Summary</text>
<text x="444.3" y="435.8" font-size="15.9" font-weight="700" textLength="95.3" lengthAdjust="spacingAndGlyphs" fill="#111" stroke="#111" stroke-width="0.45">2024–2028</text>
<text x="540.5" y="431" font-size="10" font-weight="700" textLength="6.2" lengthAdjust="spacingAndGlyphs" fill="#111" stroke="#111" stroke-width="0.3">8</text>
<text x="22.3" y="481.8" font-size="12.8" textLength="21.6" lengthAdjust="spacingAndGlyphs" fill="#111" stroke="#111" stroke-width="0.2">The</text>
<text x="48.9" y="481.8" font-size="12.8" textLength="56.4" lengthAdjust="spacingAndGlyphs" fill="#111" stroke="#111" stroke-width="0.2">following</text>
<text x="111" y="481.8" font-size="12.8" textLength="34.8" lengthAdjust="spacingAndGlyphs" fill="#111" stroke="#111" stroke-width="0.2">pages</text>
<text x="151.1" y="481.8" font-size="12.8" textLength="19.7" lengthAdjust="spacingAndGlyphs" fill="#111" stroke="#111" stroke-width="0.2">will</text>
<text x="175.8" y="481.8" font-size="12.8" textLength="43.9" lengthAdjust="spacingAndGlyphs" fill="#111" stroke="#111" stroke-width="0.2">provide</text>
<text x="226.4" y="481.8" font-size="12.8" textLength="62.3" lengthAdjust="spacingAndGlyphs" fill="#111" stroke="#111" stroke-width="0.2">overviews</text>
<text x="294" y="481.8" font-size="12.8" textLength="12.0" lengthAdjust="spacingAndGlyphs" fill="#111" stroke="#111" stroke-width="0.2">of</text>
<text x="310.5" y="481.8" font-size="12.8" textLength="28.2" lengthAdjust="spacingAndGlyphs" fill="#111" stroke="#111" stroke-width="0.2">each</text>
<text x="343.2" y="481.8" font-size="12.8" textLength="12.6" lengthAdjust="spacingAndGlyphs" fill="#111" stroke="#111" stroke-width="0.2">of</text>
<text x="359.9" y="481.8" font-size="12.8" textLength="20.1" lengthAdjust="spacingAndGlyphs" fill="#111" stroke="#111" stroke-width="0.2">the</text>
<text x="384.9" y="481.8" font-size="12.8" textLength="20.3" lengthAdjust="spacingAndGlyphs" fill="#111" stroke="#111" stroke-width="0.2">risk</text>
<text x="409.9" y="481.8" font-size="12.8" textLength="32.3" lengthAdjust="spacingAndGlyphs" fill="#111" stroke="#111" stroke-width="0.2">areas</text>
<text x="447.3" y="481.8" font-size="12.8" textLength="26.2" lengthAdjust="spacingAndGlyphs" fill="#111" stroke="#111" stroke-width="0.2">(i.e.,</text>
<text x="478.6" y="481.8" font-size="12.8" textLength="27.9" lengthAdjust="spacingAndGlyphs" fill="#111" stroke="#111" stroke-width="0.2">high,</text>
<text x="512.8" y="481.8" font-size="12.8" textLength="56.8" lengthAdjust="spacingAndGlyphs" fill="#111" stroke="#111" stroke-width="0.2">elevated,</text>
<text x="574.4" y="481.8" font-size="12.8" textLength="22.2" lengthAdjust="spacingAndGlyphs" fill="#111" stroke="#111" stroke-width="0.2">and</text>
<text x="601.6" y="481.8" font-size="12.8" textLength="52.6" lengthAdjust="spacingAndGlyphs" fill="#111" stroke="#111" stroke-width="0.2">normal).</text>
</g>
</svg>
</body></html>
